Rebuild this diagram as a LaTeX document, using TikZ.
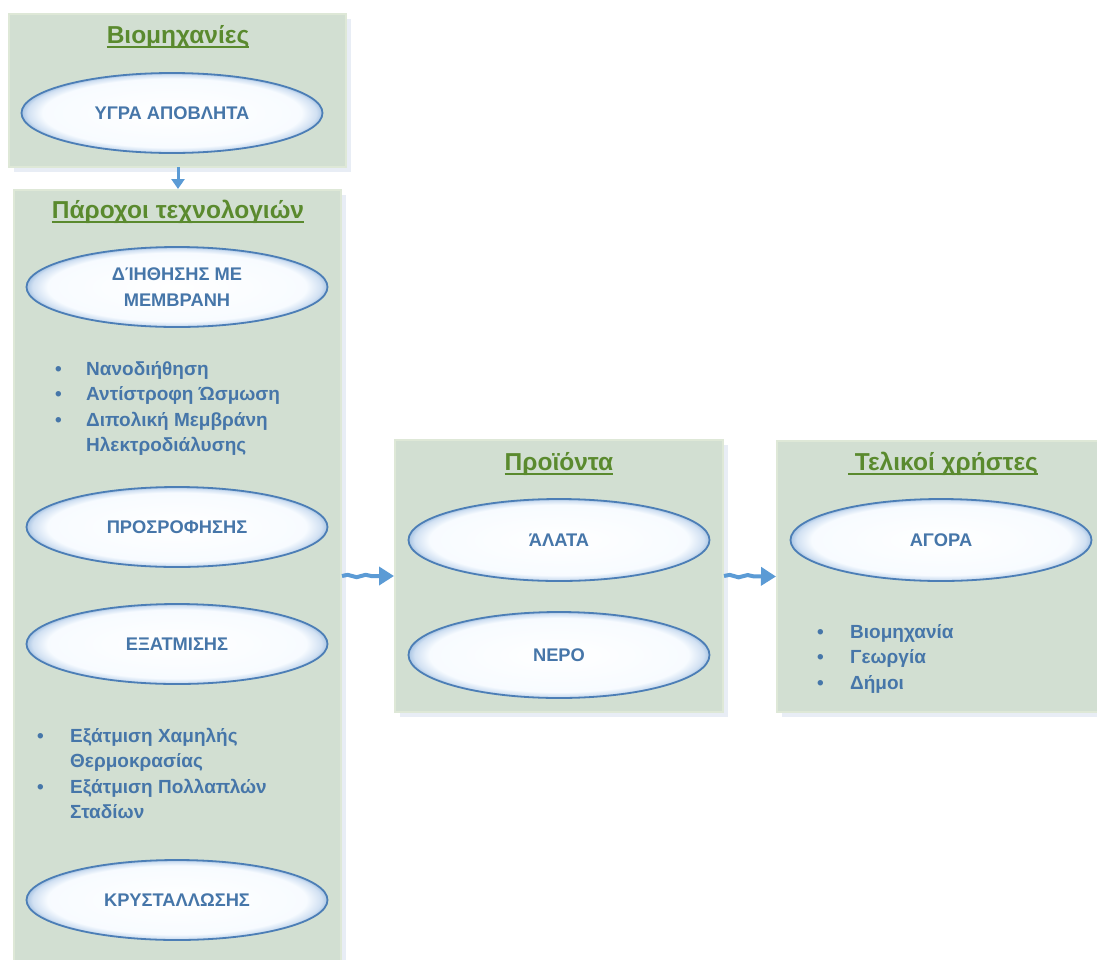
\documentclass[tikz,border=0pt]{standalone}
\usepackage{fontspec}
\setmainfont{Liberation Sans}
\usetikzlibrary{arrows.meta,decorations.pathmorphing,shadows,shapes.geometric}
\definecolor{boxfill}{HTML}{D2DFD2}
\definecolor{boxedge}{HTML}{DEE8D7}
\definecolor{boxshade}{HTML}{E8EDF5}
\definecolor{titlegreen}{HTML}{5A8A2E}
\definecolor{ovaltext}{HTML}{4676A9}
\definecolor{ovaledge}{HTML}{4C7EB6}
\definecolor{arrowblue}{HTML}{5B9BD5}
\pgfdeclareradialshading{ovalglow}{\pgfpoint{0bp}{0bp}}{rgb(0bp)=(1,1,1);rgb(21.5bp)=(0.97,0.985,1);rgb(24bp)=(0.82,0.88,0.95);rgb(25bp)=(0.66,0.77,0.89);rgb(50bp)=(0.66,0.77,0.89)}
\newlength\ttlwd
\newcommand\ttl[1]{\settowidth\ttlwd{#1}\rlap{\rule[-4.5pt]{\ttlwd}{1.8pt}}#1}
\begin{document}
	\begin{tikzpicture}
		[x=1pt,y=-1pt,
		panel/.style={rectangle,fill=boxfill,draw=boxedge,line width=2pt,
			drop shadow={shadow xshift=5pt,shadow yshift=-5pt,fill=boxshade,opacity=1}},
		heading/.style={text=titlegreen,font=\fontsize{24.5}{28}\selectfont\bfseries},
		oval/.style={ellipse,minimum width=301pt,minimum height=80pt,inner sep=0pt,
			shading=ovalglow,draw=ovaledge,line width=1.8pt,text=ovaltext,align=center,
			font=\fontsize{18.3}{26}\selectfont\bfseries},
		bullets/.style={anchor=base west,inner sep=0pt,text=ovaltext,
			font=\fontsize{19}{25.5}\selectfont\bfseries},
		flow/.style={arrowblue,line width=3pt,-{Triangle[length=10pt,width=13pt]}},
		wavy/.style={arrowblue,line width=4pt,-{Triangle[length=15pt,width=18pt]},
			decorate,decoration={snake,amplitude=1.2pt,segment length=18pt,post length=14pt}}]
		\useasboundingbox (0,0) rectangle (1097,959);
		% panels
		\node[panel,minimum width=337pt,minimum height=153pt] (industry) at (177.5,90.5) {};
		\node[panel,minimum width=327pt,minimum height=790pt] (providers) at (177.5,585) {};
		\node[panel,minimum width=328pt,minimum height=272pt] (products) at (559,576) {};
		\node[panel,minimum width=325pt,minimum height=271pt] (users) at (939.5,576.5) {};
		% headings
		\node[heading] (industrytitle) at (178,37) {\ttl{Βιομηχανίες}};
		\node[heading] (providerstitle) at (178,212) {\ttl{Πάροχοι τεχνολογιών}};
		\node[heading] (productstitle) at (559,464) {\ttl{Προϊόντα}};
		\node[heading] (userstitle) at (943,464) {\ttl{~Τελικοί χρήστες}};
		% ovals
		\node[oval] (wastewater) at (172,113) {ΥΓΡΑ ΑΠΟΒΛΗΤΑ};
		\node[oval] (membrane) at (177,287) {ΔΊΗΘΗΣΗΣ ΜΕ\\ΜΕΜΒΡΑΝΗ};
		\node[oval] (adsorption) at (177,527) {ΠΡΟΣΡΟΦΗΣΗΣ};
		\node[oval] (evaporation) at (177,644) {ΕΞΑΤΜΙΣΗΣ};
		\node[oval] (crystal) at (177,900) {ΚΡΥΣΤΑΛΛΩΣΗΣ};
		\node[oval,minimum height=82pt] (salts) at (559,540) {ΆΛΑΤΑ};
		\node[oval,minimum height=86pt] (water) at (559,655) {ΝΕΡΟ};
		\node[oval,minimum height=82pt] (market) at (941,540) {ΑΓΟΡΑ};
		% lists
		\node[bullets] (membranelist) at (55,375) {\begin{tabular}[t]{@{}p{31pt}@{}l@{}}
				• & Νανοδιήθηση\\
				• & Αντίστροφη Ώσμωση\\
				• & Διπολική Μεμβράνη\\
				& Ηλεκτροδιάλυσης
			\end{tabular}};
		\node[bullets] (evaporationlist) at (37,742) {\begin{tabular}[t]{@{}p{33pt}@{}l@{}}
				• & Εξάτμιση Χαμηλής\\
				& Θερμοκρασίας\\
				• & Εξάτμιση Πολλαπλών\\
				& Σταδίων
			\end{tabular}};
		\node[bullets] (marketlist) at (817,638) {\begin{tabular}[t]{@{}p{33pt}@{}l@{}}
				• & Βιομηχανία\\
				• & Γεωργία\\
				• & Δήμοι
			\end{tabular}};
		% arrows
		\draw[flow] (industry.south -| industrytitle.south) ++(0,-1) coordinate (down) (down) -- (industrytitle.south |- providers.north);
		\draw[wavy] (providers.east |- products.west) -- (products.west);
		\draw[wavy] (products.east) -- (users.west);
	\end{tikzpicture}
\end{document}
